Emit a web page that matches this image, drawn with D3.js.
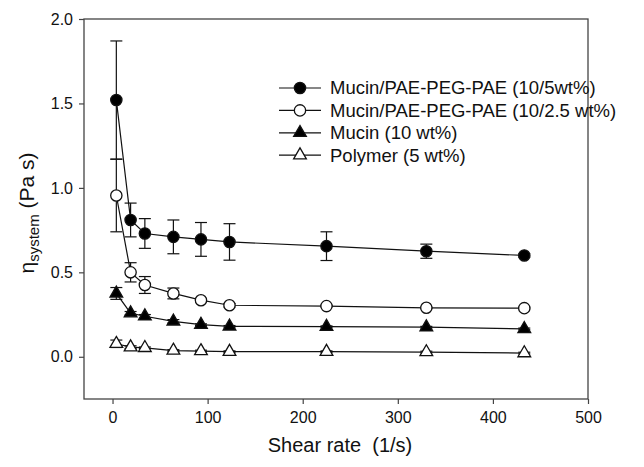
<!DOCTYPE html>
<html><head><meta charset="utf-8">
<script src="https://cdn.jsdelivr.net/npm/d3@7"></script>
<style>body{margin:0;background:#fff}text{font-family:"Liberation Sans",Arial,sans-serif;fill:#111}</style>
</head><body><svg id="c" width="644" height="467"></svg>
<script>
const shearRate = [4, 19, 34, 64, 93, 123, 225, 330, 433];
const seriesNames = ["Mucin/PAE-PEG-PAE (10/5wt%)", "Mucin/PAE-PEG-PAE (10/2.5 wt%)", "Mucin (10 wt%)", "Polymer (5 wt%)"];
const s1 = [1.52, 0.81, 0.73, 0.71, 0.695, 0.68, 0.655, 0.625, 0.60];
const s1err = [0.35, 0.10, 0.088, 0.10, 0.10, 0.108, 0.085, 0.042, 0.01];
const s2 = [0.955, 0.50, 0.425, 0.375, 0.335, 0.305, 0.30, 0.29, 0.288];
const s2err = [0.215, 0.057, 0.05, 0.032, 0.01, 0.01, 0.005, 0.005, 0.005];
const s3 = [0.375, 0.258, 0.24, 0.21, 0.19, 0.18, 0.178, 0.175, 0.165];
const s3err = [0.035, 0.01, 0.01, 0.01, 0.005, 0.005, 0.005, 0.005, 0.005];
const s4 = [0.077, 0.057, 0.053, 0.037, 0.034, 0.03, 0.03, 0.028, 0.022];
const s4err = [0.022, 0.008, 0.005, 0.005, 0.005, 0.005, 0.005, 0.005, 0.005];
const xTicks = [0, 100, 200, 300, 400, 500];
const yTicks = [0.0, 0.5, 1.0, 1.5, 2.0];

const series = [
  {name: seriesNames[0], v: s1, e: s1err, sym: d3.symbolCircle, size: 100, fill: "#000"},
  {name: seriesNames[1], v: s2, e: s2err, sym: d3.symbolCircle, size: 100, fill: "#fff"},
  {name: seriesNames[2], v: s3, e: s3err, sym: d3.symbolTriangle, size: 70, fill: "#000"},
  {name: seriesNames[3], v: s4, e: s4err, sym: d3.symbolTriangle, size: 70, fill: "#fff"}
];

const W = 644, H = 467, m = {l: 84, t: 19, r: 56, b: 68};
const svg = d3.select("#c");
const x = d3.scaleLinear().domain([-30, 500]).range([m.l, W - m.r]);
const y = d3.scaleLinear().domain([-0.25, 2.0]).range([H - m.b, m.t]);

// frame
svg.append("rect").attr("x", m.l).attr("y", m.t).attr("width", W - m.r - m.l).attr("height", H - m.b - m.t)
  .attr("fill", "none").attr("stroke", "#444").attr("stroke-width", 1.3);

const xa = svg.append("g").attr("transform", `translate(0,${H - m.b})`)
  .call(d3.axisBottom(x).tickValues(xTicks).tickSize(5).tickPadding(8).tickFormat(d3.format("d")));
const ya = svg.append("g").attr("transform", `translate(${m.l},0)`)
  .call(d3.axisLeft(y).tickValues(yTicks).tickSize(5).tickPadding(6).tickFormat(d3.format(".1f")));
[xa, ya].forEach(a => {
  a.select(".domain").remove();
  a.selectAll("line").attr("stroke", "#444").attr("stroke-width", 1.2);
  a.selectAll("text").style("font-size", "16px").style("font-family", '"Liberation Sans",Arial,sans-serif').attr("fill", "#111");
});

svg.append("text").attr("x", 340).attr("y", 452).attr("text-anchor", "middle")
  .style("font-size", "20px").attr("xml:space", "preserve").text("Shear rate  (1/s)");

const yt = svg.append("text").attr("transform", "translate(34,213) rotate(-90)").attr("text-anchor", "middle")
  .style("font-size", "21px");
yt.append("tspan").text("η");
yt.append("tspan").attr("dy", 5).style("font-size", "15px").text("system");
yt.append("tspan").attr("dy", -5).text(" (Pa s)");

const line = d3.line().x((d, i) => x(shearRate[i])).y(d => y(d));
const cap = 6;
series.forEach(s => {
  svg.append("path").attr("d", line(s.v)).attr("fill", "none").attr("stroke", "#111").attr("stroke-width", 1.2);
});
series.forEach(s => {
  const g = svg.append("g").attr("stroke", "#111").attr("stroke-width", 1.2);
  s.v.forEach((v, i) => {
    const e = s.e[i], cx = x(shearRate[i]);
    g.append("line").attr("x1", cx).attr("x2", cx).attr("y1", y(v - e)).attr("y2", y(v + e));
    [v - e, v + e].forEach(w => g.append("line").attr("x1", cx - cap).attr("x2", cx + cap).attr("y1", y(w)).attr("y2", y(w)));
  });
});
series.forEach(s => {
  const sym = d3.symbol().type(s.sym).size(s.size);
  svg.append("g").selectAll("path").data(s.v).join("path")
    .attr("transform", (d, i) => `translate(${x(shearRate[i])},${y(d)})`)
    .attr("d", sym).attr("fill", s.fill).attr("stroke", "#111").attr("stroke-width", 1.3);
});

// legend
const lg = svg.append("g");
series.forEach((s, i) => {
  const yy = 88 + i * 22.4;
  lg.append("line").attr("x1", 279).attr("x2", 321).attr("y1", yy).attr("y2", yy).attr("stroke", "#111").attr("stroke-width", 1.2);
  lg.append("path").attr("transform", `translate(300,${yy})`).attr("d", d3.symbol().type(s.sym).size(s.size)())
    .attr("fill", s.fill).attr("stroke", "#111").attr("stroke-width", 1.3);
  lg.append("text").attr("x", 330).attr("y", yy).attr("dy", "0.35em").style("font-size", "18.5px").text(s.name);
});
</script></body></html>
